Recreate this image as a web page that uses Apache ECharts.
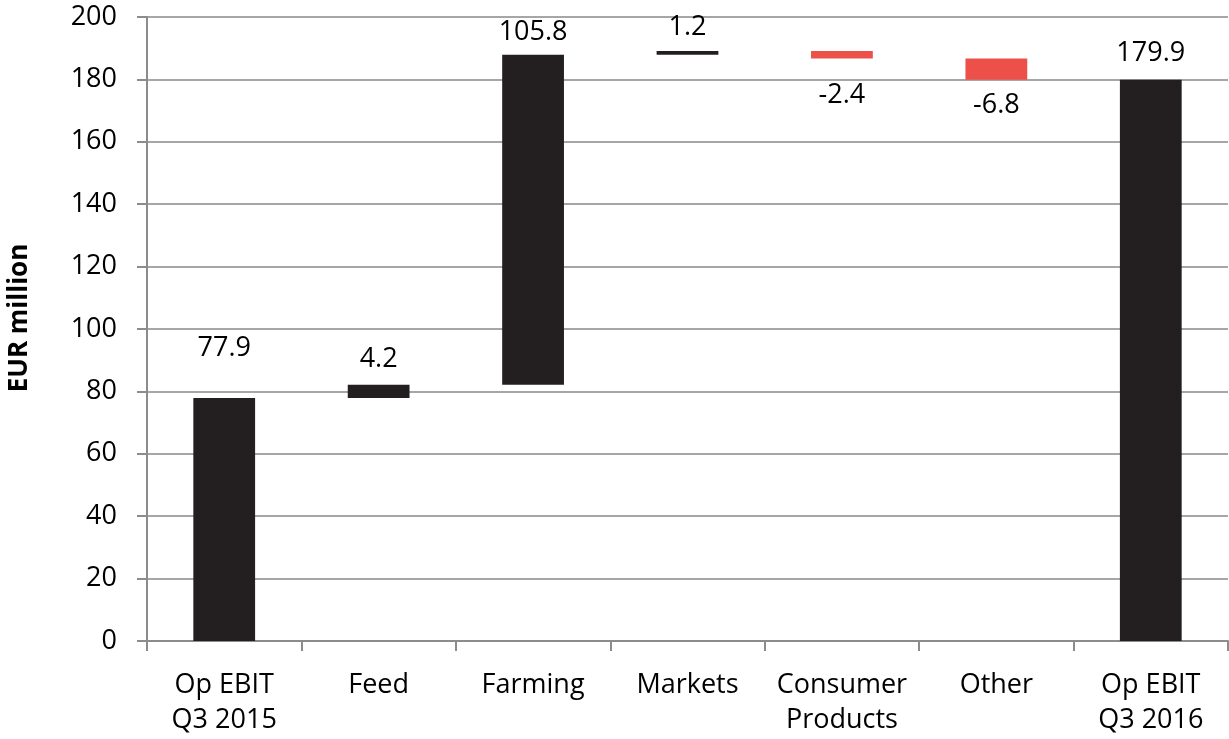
<!DOCTYPE html>
<html>
<head>
<meta charset="utf-8">
<script src="https://cdn.jsdelivr.net/npm/echarts@6/dist/echarts.min.js"></script>
<style>
  html, body { margin: 0; padding: 0; background: #fff; }
  #chart { width: 1229px; height: 739px; }
</style>
</head>
<body>
<div id="chart"></div>
<script>
// Operating EBIT bridge, Q3 2015 -> Q3 2016 (EUR million)
const categories = ['Op EBIT\nQ3 2015', 'Feed', 'Farming', 'Markets', 'Consumer\nProducts', 'Other', 'Op EBIT\nQ3 2016'];
const startValue = 77.9;
const deltas = [4.2, 105.8, 1.2, -2.4, -6.8];
const endValue = 179.9;
const yTicks = { min: 0, max: 200, step: 20 };

const DARK = '#231f20';
const RED = '#ec5048';
const FONT = '"Open Sans", "Noto Sans", sans-serif';
const FS = 27;

// Build invisible base + visible step for each column
const base = [0];
const step = [startValue];
const signed = [startValue];
let running = startValue;
deltas.forEach(d => {
  const next = running + d;
  base.push(Math.min(running, next));
  step.push(Math.abs(d));
  signed.push(d);
  running = next;
});
base.push(0);
step.push(endValue);
signed.push(endValue);

// label distance above/below each column
const labelGap = [36, 12, 9, 10, 0, 0, 13];
const belowGap = { 4: 23, 5: 12 };

const stepData = step.map((v, i) => {
  const neg = signed[i] < 0;
  return {
    value: v,
    itemStyle: { color: neg ? RED : DARK },
    label: {
      position: neg ? 'bottom' : 'top',
      distance: neg ? belowGap[i] : labelGap[i]
    }
  };
});

const chart = echarts.init(document.getElementById('chart'), null, { renderer: 'canvas' });
chart.setOption({
  animation: false,
  backgroundColor: '#ffffff',
  grid: { left: 147, right: 1, top: 17, bottom: 98, containLabel: false, outerBoundsMode: 'none' },
  xAxis: {
    type: 'category',
    data: categories,
    boundaryGap: true,
    axisLine: { show: true, lineStyle: { color: '#8c8c8c', width: 2 } },
    axisTick: { show: true, length: 10, lineStyle: { color: '#8c8c8c', width: 2 } },
    axisLabel: {
      color: '#000', fontFamily: FONT, fontSize: FS, lineHeight: 35,
      margin: 27, interval: 0
    },
    splitLine: { show: false }
  },
  yAxis: {
    type: 'value',
    min: yTicks.min, max: yTicks.max, interval: yTicks.step,
    name: 'EUR million',
    nameLocation: 'middle',
    nameRotate: 90,
    nameGap: 114,
    nameTextStyle: {
      color: '#000', fontFamily: FONT, fontSize: 26, fontWeight: 'bold',
      padding: [0, 0, 0, 22]
    },
    axisLine: { show: true, lineStyle: { color: '#8c8c8c', width: 2 } },
    axisTick: { show: true, length: 10, lineStyle: { color: '#8c8c8c', width: 2 } },
    axisLabel: { color: '#000', fontFamily: FONT, fontSize: FS, margin: 30 },
    splitLine: { show: true, lineStyle: { color: '#a6a6a6', width: 2 } }
  },
  series: [
    {
      type: 'bar', stack: 'bridge', data: base,
      itemStyle: { color: 'transparent' },
      barWidth: '40%', silent: true
    },
    {
      type: 'bar', stack: 'bridge', data: stepData,
      barWidth: '40%',
      label: {
        show: true, color: '#000', fontFamily: FONT, fontSize: FS,
        formatter: p => signed[p.dataIndex].toFixed(1)
      }
    }
  ]
});
</script>
</body>
</html>
